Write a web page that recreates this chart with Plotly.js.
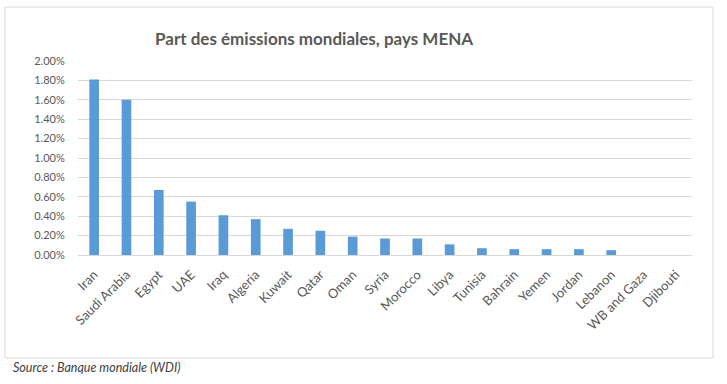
<!DOCTYPE html>
<html>
<head>
<meta charset="utf-8">
<script src="https://cdn.plot.ly/plotly-3.0.1.min.js"></script>
<style>
html,body{margin:0;padding:0;background:#fff;}
#chart{width:727px;height:384px;}
</style>
</head>
<body>
<div id="chart"></div>
<script>
const countries = ["Iran","Saudi Arabia","Egypt","UAE","Iraq","Algeria","Kuwait","Qatar","Oman","Syria","Morocco","Libya","Tunisia","Bahrain","Yemen","Jordan","Lebanon","WB and Gaza","Djibouti"];
const shares = [1.81,1.60,0.67,0.55,0.41,0.37,0.27,0.25,0.19,0.17,0.17,0.11,0.07,0.06,0.06,0.06,0.05,0.00,0.00];
const yTicks = [0,0.2,0.4,0.6,0.8,1.0,1.2,1.4,1.6,1.8,2.0];
const yTickLabels = ["0.00%","0.20%","0.40%","0.60%","0.80%","1.00%","1.20%","1.40%","1.60%","1.80%","2.00%"];
const chartTitle = "Part des émissions mondiales, pays MENA";
const sourceText = "Source : Banque mondiale (WDI)";

const font = "Lato, 'Open Sans', sans-serif";
const W = 727, H = 384, L = 78, R = 35, T = 61, B = 129;
const pw = W - L - R, ph = H - T - B;
const px = x => (x - L) / pw;
const py = y => (H - B - y) / ph;

const trace = {
  type: 'bar',
  x: countries,
  y: shares,
  marker: {color: '#5B9BD5'},
  hoverinfo: 'x+y'
};

const layout = {
  width: W, height: H,
  margin: {l: L, r: R, t: T, b: B},
  paper_bgcolor: '#ffffff',
  plot_bgcolor: '#ffffff',
  bargap: 0.70,
  showlegend: false,
  font: {family: font, color: '#595959', size: 11},
  title: {
    text: chartTitle,
    font: {family: font, size: 17, color: '#595959', weight: 'bold'},
    xref: 'container', yref: 'container',
    x: 0.432, xanchor: 'center',
    y: 1 - 39 / H, yanchor: 'middle'
  },
  xaxis: {
    type: 'category',
    tickangle: -45,
    showgrid: false,
    showline: true,
    linecolor: '#D9D9D9',
    linewidth: 1,
    ticks: 'outside',
    ticklen: 6,
    tickcolor: 'rgba(0,0,0,0)',
    tickfont: {family: font, size: 13, color: '#595959'},
    fixedrange: true
  },
  yaxis: {
    range: [0, 2.0],
    tickmode: 'array',
    tickvals: yTicks,
    ticktext: yTickLabels,
    showgrid: true,
    gridcolor: '#D9D9D9',
    gridwidth: 1,
    zeroline: false,
    showline: false,
    ticks: 'outside',
    ticklen: 10,
    tickcolor: 'rgba(0,0,0,0)',
    tickfont: {family: font, size: 11, color: '#595959'},
    fixedrange: true
  },
  shapes: [{
    type: 'rect', xref: 'paper', yref: 'paper',
    x0: px(5), x1: px(713), y0: py(358), y1: py(7),
    line: {color: '#D9D9D9', width: 1},
    fillcolor: 'rgba(0,0,0,0)',
    layer: 'below'
  }],
  annotations: [{
    text: '<i>' + sourceText + '</i>',
    xref: 'paper', yref: 'paper',
    x: px(11), xanchor: 'left',
    y: py(367), yanchor: 'middle',
    showarrow: false,
    font: {family: font, size: 12.5, color: '#404040'}
  }]
};

Plotly.newPlot('chart', [trace], layout, {displayModeBar: false, staticPlot: true});
</script>
</body>
</html>
